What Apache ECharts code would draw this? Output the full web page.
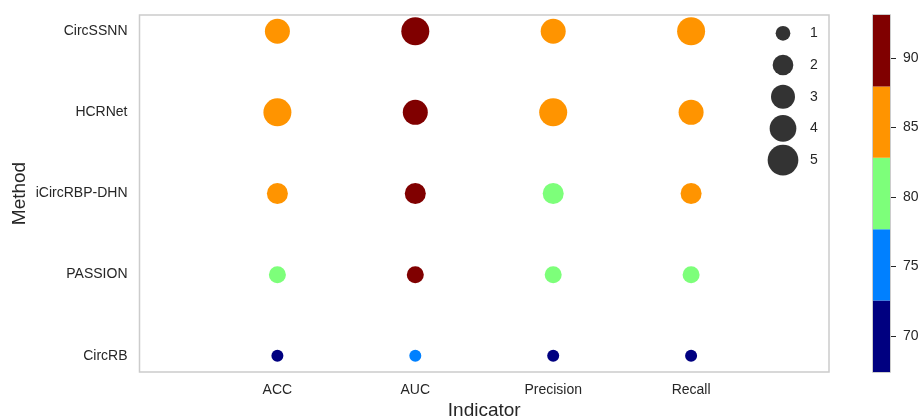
<!DOCTYPE html>
<html>
<head>
<meta charset="utf-8">
<script src="https://cdn.jsdelivr.net/npm/echarts@6/dist/echarts.min.js"></script>
<style>
  html, body { margin: 0; padding: 0; background: #ffffff; }
  #chart { width: 921px; height: 417px; }
</style>
</head>
<body>
<div id="chart"></div>
<script>
// Methods (bottom to top) and indicators (left to right)
const methods = ['CircRB', 'PASSION', 'iCircRBP-DHN', 'HCRNet', 'CircSSNN'];
const indicators = ['ACC', 'AUC', 'Precision', 'Recall'];

// Scores (%) per method, in indicator order
const scoreCircRB = [68.5, 75.5, 67.4, 70.1];
const scorePASSION = [81.0, 88.5, 80.2, 81.6];
const scoreICircRBP = [84.3, 91.5, 82.0, 85.4];
const scoreHCRNet = [86.6, 92.6, 87.0, 86.1];
const scoreCircSSNN = [86.2, 93.1, 85.9, 87.3];
const scores = [scoreCircRB, scorePASSION, scoreICircRBP, scoreHCRNet, scoreCircSSNN];

// Size legend entries (rank within each indicator)
const rankLabels = ['1', '2', '3', '4', '5'];
// Colour bar ticks
const colorTicks = [70, 75, 80, 85, 90];

// Discrete jet palette, 5 bins
const binColors = ['#000080', '#0080ff', '#7dff7a', '#ff9400', '#800000'];
const rankSymbolSize = [12, 17, 21, 25, 28];
const legendSymbolSize = [14.7, 20.7, 24, 26.7, 30.7];
const FONT = 'Liberation Sans, Arial, sans-serif';
const TEXT = '#262626';

const allScores = scores.flat();
const vMin = Math.min(...allScores);
const vMax = Math.max(...allScores);
const binWidth = (vMax - vMin) / binColors.length;
const edges = binColors.map((_, i) => vMin + i * binWidth).concat([vMax]);

// rank of each method within an indicator (1 = lowest score)
function rankOf(mi, ii) {
  const col = scores.map(r => r[ii]);
  return col.filter(v => v < scores[mi][ii]).length + 1;
}

const points = [];
scores.forEach((row, mi) => {
  row.forEach((v, ii) => {
    points.push([ii, mi, v, rankOf(mi, ii)]);
  });
});

const pieces = binColors.map((c, i) => (
  i === binColors.length - 1
    ? { gte: edges[i], lte: edges[i + 1] + 1e-9, color: c }
    : { gte: edges[i], lt: edges[i + 1], color: c }
));

// stacked colour bar segments
const barSeries = [{
  type: 'bar', xAxisIndex: 1, yAxisIndex: 1, stack: 'cb', barWidth: '100%',
  clip: true, silent: true, data: [vMin], itemStyle: { color: 'rgba(0,0,0,0)' }
}].concat(binColors.map(c => ({
  type: 'bar', xAxisIndex: 1, yAxisIndex: 1, stack: 'cb', barWidth: '100%',
  clip: true, silent: true, data: [binWidth], itemStyle: { color: c }
})));

// size legend graphics
const legendX = 783, legendTextX = 810, legendY0 = 33.3, legendStep = 31.7;
const legendGraphics = [];
rankLabels.forEach((lab, i) => {
  legendGraphics.push({
    type: 'circle',
    shape: { cx: legendX, cy: legendY0 + i * legendStep, r: legendSymbolSize[i] / 2 },
    style: { fill: '#333333' }
  });
  legendGraphics.push({
    type: 'text',
    x: legendTextX, y: legendY0 + i * legendStep,
    style: { text: lab, fill: TEXT, font: '14px ' + FONT, textVerticalAlign: 'middle', textAlign: 'left' }
  });
});
// thin frame round the colour bar
legendGraphics.push({
  type: 'rect', z: 100,
  shape: { x: 872.5, y: 14.5, width: 18, height: 358 },
  style: { fill: 'none', stroke: '#cccccc', lineWidth: 1 }
});

const chart = echarts.init(document.getElementById('chart'), null, { renderer: 'canvas' });
chart.setOption({
  backgroundColor: '#ffffff',
  animation: false,
  textStyle: { fontFamily: FONT },
  grid: [
    { left: 139.5, top: 15, width: 689.5, height: 357, show: true, outerBoundsMode: 'none',
      containLabel: false, borderColor: '#cccccc', borderWidth: 1.5, backgroundColor: 'transparent' },
    { left: 873, top: 15, width: 17, height: 357, show: false, outerBoundsMode: 'none',
      containLabel: false }
  ],
  xAxis: [
    {
      type: 'value', gridIndex: 0, min: -1, max: 4,
      name: 'Indicator', nameLocation: 'middle', nameGap: 29, nameMoveOverlap: false,
      nameTextStyle: { fontSize: 19, color: TEXT, fontFamily: FONT },
      axisLine: { show: false }, axisTick: { show: false }, splitLine: { show: false },
      axisLabel: {
        customValues: [0, 1, 2, 3], fontSize: 14, color: TEXT, margin: 11,
        formatter: v => indicators[Math.round(v)] || ''
      }
    },
    {
      type: 'category', gridIndex: 1, data: ['c'], show: false
    }
  ],
  yAxis: [
    {
      type: 'value', gridIndex: 0, min: -0.2, max: 4.2,
      name: 'Method', nameLocation: 'middle', nameGap: 110, nameRotate: 90, nameMoveOverlap: false,
      nameTextStyle: { fontSize: 19, color: TEXT, fontFamily: FONT },
      axisLine: { show: false }, axisTick: { show: false }, splitLine: { show: false },
      axisLabel: {
        customValues: [0, 1, 2, 3, 4], fontSize: 14, color: TEXT, margin: 12,
        formatter: v => methods[Math.round(v)] || ''
      }
    },
    {
      type: 'value', gridIndex: 1, min: vMin, max: vMax, position: 'right',
      axisLine: { show: false }, splitLine: { show: false },
      axisTick: { show: true, customValues: colorTicks, length: 6, lineStyle: { color: TEXT, width: 1 } },
      axisLabel: { customValues: colorTicks, fontSize: 14, color: TEXT, margin: 13 }
    }
  ],
  visualMap: {
    type: 'piecewise', show: false, seriesIndex: 0, dimension: 2, pieces: pieces
  },
  series: [
    {
      type: 'scatter', xAxisIndex: 0, yAxisIndex: 0,
      data: points,
      symbolSize: d => rankSymbolSize[d[3] - 1],
      itemStyle: { opacity: 1 }
    }
  ].concat(barSeries),
  graphic: legendGraphics
});
</script>
</body>
</html>
